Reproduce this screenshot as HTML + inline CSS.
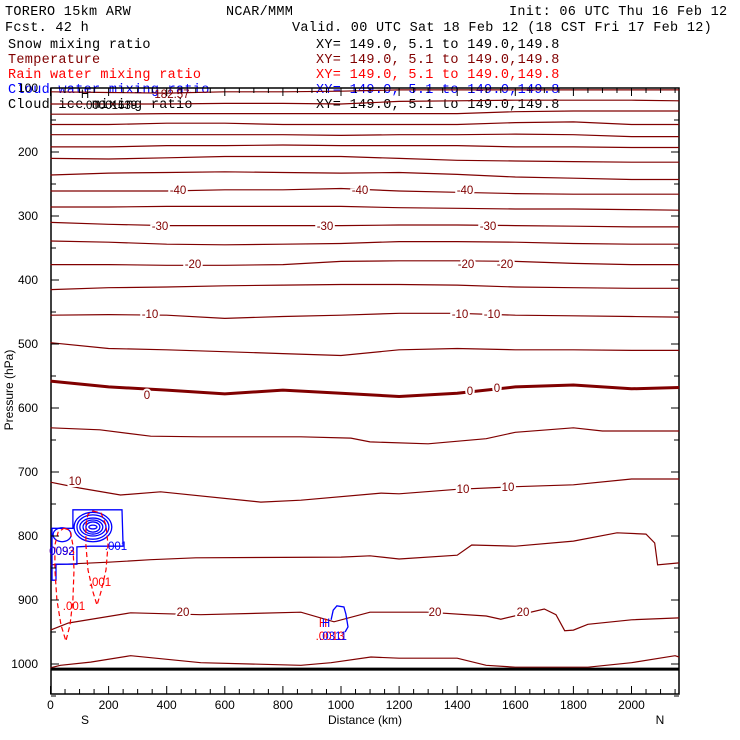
<!DOCTYPE html>
<html><head><meta charset="utf-8"><style>
html,body{margin:0;padding:0;background:#fff;width:740px;height:740px;overflow:hidden}
svg{display:block}
.hd{font-family:"Liberation Mono",monospace;font-size:13.5px;letter-spacing:0.3px}
.ax{font-family:"Liberation Sans",sans-serif;font-size:12px}
.cl{font-family:"Liberation Sans",sans-serif;font-size:11.5px;fill:#800000;paint-order:stroke;stroke:#fff;stroke-width:4px}
</style></head><body>
<svg id="chart" width="740" height="740" viewBox="0 0 740 740">
<g>
<text class="hd" x="5" y="15">TORERO  15km ARW</text>
<text class="hd" x="226" y="15">NCAR/MMM</text>
<text class="hd" x="509" y="15">Init: 06 UTC Thu 16 Feb 12</text>
<text class="hd" x="5" y="31">Fcst.  42 h</text>
<text class="hd" x="292" y="31">Valid. 00 UTC Sat 18 Feb 12 (18 CST Fri 17 Feb 12)</text>
<text class="hd" x="8" y="48">Snow mixing ratio</text>
<text class="hd" x="316" y="48">XY= 149.0,  5.1 to 149.0,149.8</text>
<text class="hd" x="8" y="63" fill="#800000">Temperature</text>
<text class="hd" x="316" y="63" fill="#800000">XY= 149.0,  5.1 to 149.0,149.8</text>
<text class="hd" x="8" y="78" fill="#ff0000">Rain water mixing ratio</text>
<text class="hd" x="316" y="78" fill="#ff0000">XY= 149.0,  5.1 to 149.0,149.8</text>
<text class="hd" x="8" y="93" fill="#0000ff">Cloud water mixing ratio</text>
<text class="hd" x="316" y="93" fill="#0000ff">XY= 149.0,  5.1 to 149.0,149.8</text>
<text class="hd" x="8" y="108">Cloud ice mixing ratio</text>
<text class="hd" x="316" y="108">XY= 149.0,  5.1 to 149.0,149.8</text>
</g>
<g id="plot"></g>
<text class="ax" x="13" y="390" transform="rotate(-90 13 390)" text-anchor="middle">Pressure (hPa)</text>
<text class="ax" x="365" y="724" text-anchor="middle">Distance (km)</text>
<text class="ax" x="85" y="724" text-anchor="middle">S</text>
<text class="ax" x="660" y="724" text-anchor="middle">N</text>
</svg>
<script>
const tempLevels = [-80,-75,-70,-65,-60,-55,-50,-45,-40,-35,-30,-25,-20,-15,-10,-5,0];
const upperDist = [0,200,400,600,800,1000,1200,1400,1600,1800,2000,2164];
const upperPres = [
 [106,107,108,106,106,105,103,103,103,103,103,103],
 [125,125,125,124,124,125,121,120,119,119,119,120],
 [141,141,140,140,140,140,140,140,137,136,136,136],
 [157,157,155,155,157,157,157,157,154,153,157,157],
 [173,173,173,173,173,174,173,173,172,173,176,176],
 [192,192,190,190,189,190,190,190,192,192,193,193],
 [210,211,209,207,207,207,210,213,214,215,216,216],
 [236,233,232,231,232,233,232,235,239,241,243,243],
 [261,261,261,259,259,257,261,263,265,266,266,266],
 [286,286,285,285,285,285,287,288,289,289,290,291],
 [310,313,315,315,315,315,314,314,315,316,317,317],
 [339,341,344,345,344,343,340,340,341,343,344,344],
 [376,376,377,377,376,371,370,370,371,374,376,376],
 [415,412,411,409,408,407,407,408,411,412,413,413],
 [455,454,455,460,457,455,452,452,455,456,457,458],
 [498,507,509,512,515,518,509,507,509,509,510,510],
 [558,567,572,578,572,577,582,577,567,564,570,568]
];
const t5Dist = [0,170,345,517,862,1034,1100,1300,1500,1600,1800,1900,2164];
const t5Pres = [631,634,644,645,645,647,653,656,648,638,631,636,636];
const t10Dist = [0,100,241,379,724,862,1138,1200,1400,1600,1800,2000,2164];
const t10Pres = [716,725,736,731,747,744,733,734,727,723,720,711,711];
const t15Dist = [0,200,345,500,1000,1100,1200,1400,1450,1600,1800,1950,2050,2080,2090,2164];
const t15Pres = [845,841,837,834,833,831,836,830,814,816,808,795,797,811,845,842];
const t20Dist = [0,62,276,517,862,976,1100,1300,1500,1550,1700,1740,1770,1800,1850,2000,2164];
const t20Pres = [947,936,920,923,919,934,919,919,925,930,914,923,948,947,938,931,928];
const t25Dist = [0,34,138,276,517,862,966,1103,1200,1400,1500,1600,1850,2000,2150,2164];
const t25Pres = [1006,1002,997,987,998,1002,998,989,991,991,1002,1005,1005,998,987,989];
const groundPres = 1008;
const pTicks = [100,200,300,400,500,600,700,800,900,1000];
const dTicks = [0,200,400,600,800,1000,1200,1400,1600,1800,2000];
const cwRingCenter = [146,786];
const cwRingRx = [65,55,45,34,24,14];
const cwRingRy = [23,19,14,11,8,3];
const cwOuterDist = [77,246,250,136,91,91,19,19,5,5,77];
const cwOuterPres = [759,759,816,816,817,844,844,869,869,788,788];
const cwBumpDist = [966,973,986,1010,1017,1024,1014];
const cwBumpPres = [931,916,909,911,922,942,950];
const rainADist = [146,174,191,198,191,174,160,146,129,122,122,129];
const rainAPres = [761,764,783,814,853,887,908,887,853,814,783,766];
const rainBDist = [46,67,77,81,77,67,53,36,22,15,15,26];
const rainBPres = [788,791,814,853,900,939,964,939,900,853,814,794];

const X = d => 50.5 + 0.2905*d;
const Y = p => 88 + 0.64*(p-100);
const NS='http://www.w3.org/2000/svg';
const plot=document.getElementById('plot');
function mk(tag,attrs,parent){const e=document.createElementNS(NS,tag);for(const k in attrs)e.setAttribute(k,attrs[k]);(parent||plot).appendChild(e);return e;}
function poly(ds,ps,close){return ds.map((d,i)=>(i?'L':'M')+X(d).toFixed(1)+' '+Y(ps[i]).toFixed(1)).join('')+(close?'Z':'');}

const fr=mk('rect',{x:51,y:88,width:628,height:606,fill:'none',stroke:'#000','stroke-width':1.5});



upperPres.forEach((row,i)=>{
  const lv=tempLevels[i];
  const pth=mk('path',{d:poly(upperDist,row),fill:'none',stroke:'#800000','stroke-width':lv===0?3:1.2});
  
  
});
[[t5Dist,t5Pres,5],[t10Dist,t10Pres,10],[t15Dist,t15Pres,15],[t20Dist,t20Pres,20],[t25Dist,t25Pres,25]].forEach(a=>{
  const pth=mk('path',{d:poly(a[0],a[1]),fill:'none',stroke:'#800000','stroke-width':1.2});
  
  
});
const gl=mk('line',{x1:51,x2:679,y1:Y(groundPres),y2:Y(groundPres),stroke:'#000','stroke-width':3});



const labs=[['-40',178,194],['-40',360,194],['-40',465,194],['-30',160,230],['-30',325,230],['-30',488,230],
['-20',193,268],['-20',466,268],['-20',505,268],['-10',150,318],['-10',460,318],['-10',492,318],
['0',147,399],['0',470,395],['0',497,392],['10',75,485],['10',463,493],['10',508,491],['20',183,616],['20',435,616],['20',523,616]];
labs.forEach(l=>{const t=mk('text',{x:l[1],y:l[2],class:'cl','text-anchor':'middle'});t.textContent=l[0];

});

const cwo=mk('path',{d:poly(cwOuterDist,cwOuterPres,true),fill:'none',stroke:'#0000ff','stroke-width':1.3});


cwRingRx.forEach((rx,i)=>{
  const e=mk('ellipse',{cx:X(cwRingCenter[0]),cy:Y(cwRingCenter[1]),rx:rx*0.2905,ry:cwRingRy[i]*0.64,fill:'none',stroke:'#0000ff','stroke-width':1.3});
  
  
});
const sr=mk('ellipse',{cx:X(40),cy:Y(798),rx:9,ry:7,fill:'none',stroke:'#0000ff','stroke-width':1.3});


const cb=mk('path',{d:poly(cwBumpDist,cwBumpPres),fill:'none',stroke:'#0000ff','stroke-width':1.3});


[[rainADist,rainAPres,'rain-contour-a'],[rainBDist,rainBPres,'rain-contour-b']].forEach(a=>{
  const r=mk('path',{d:poly(a[0],a[1],true),fill:'none',stroke:'#ff0000','stroke-width':1.2,'stroke-dasharray':'5,3'});
  
  
});
const sl=[['.001',116,550,'#0000ff'],['.001',100,586,'#ff0000'],['.001',74,610,'#ff0000'],['0093',62,555,'#ff0000'],['0092',62,555,'#0000ff'],
['H',323,627,'#ff0000'],['H',326,627,'#0000ff'],['.0013',330,640,'#ff0000'],['.0311',333,640,'#0000ff'],
['H',85,98,'#000'],['182.57',172,98,'#800000'],['.00001639',110,109,'#000']];
sl.forEach(s=>{const t=mk('text',{x:s[1],y:s[2],'text-anchor':'middle',fill:s[3],'font-family':'Liberation Sans, sans-serif','font-size':'11.5px'});t.textContent=s[0];

});

for(let p=100;p<=1050;p+=50){
  const len=(p%100===0)?8:5;
  const a=mk('line',{x1:51,x2:51+len,y1:Y(p),y2:Y(p),stroke:'#000'});
  
  
  const b=mk('line',{x1:679,x2:679-len,y1:Y(p),y2:Y(p),stroke:'#000'});
  
  
}
pTicks.forEach(p=>{const t=mk('text',{x:38,y:Y(p)+4,class:'ax','text-anchor':'end'});t.textContent=p;

});
for(let d=0;d<=2150;d+=50){
  const len=(d%200===0)?8:5;
  const a=mk('line',{x1:X(d),x2:X(d),y1:694,y2:694-len,stroke:'#000'});
  
  
  const b=mk('line',{x1:X(d),x2:X(d),y1:88,y2:88+len,stroke:'#000'});
  
  
}
dTicks.forEach(d=>{const t=mk('text',{x:X(d),y:709,class:'ax','text-anchor':'middle'});t.textContent=d;

});
</script>
</body></html>
